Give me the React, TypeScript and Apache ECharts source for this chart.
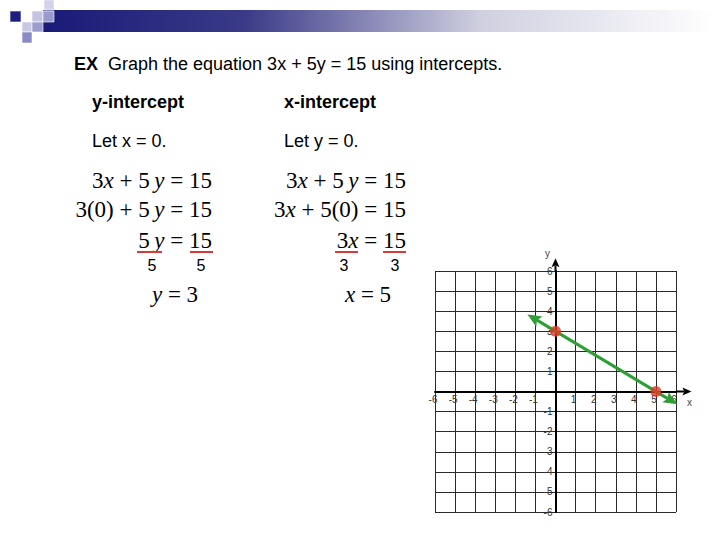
import React, { useEffect, useRef } from "react";
import * as echarts from "echarts";

// ---- data ----
const axisMin = -6;
const axisMax = 6;
const axisStep = 1;
const intercepts = [
  [0, 3],
  [5, 0],
];
const graphedLine = [[-1.4, 3.84, 6.07, -0.64]];
const axisArrowTips = [
  [6.77, 0],
  [0, 6.64],
];
const axisNames = ["x", "y"];

const titleBold = "EX";
const titleRest = "  Graph the equation 3x + 5y = 15 using intercepts.";
const headings = ["y-intercept", "x-intercept"];
const letLines = ["Let x = 0.", "Let y = 0."];
const leftSteps = ["3x + 5\u2009y = 15", "3(0) + 5\u2009y = 15", "5\u2009y = 15"];
const rightSteps = ["3x + 5\u2009y = 15", "3x + 5(0) = 15", "3x = 15"];
const leftDivisor = "5";
const rightDivisor = "3";
const leftResult = "y = 3";
const rightResult = "x = 5";

const SANS = "'Liberation Sans', Arial, sans-serif";
const SERIF = "'Liberation Serif', 'Times New Roman', serif";

// plot box (layout)
const GRID = { left: 435, top: 271, width: 241, height: 241 };

function toRich(s: string): string {
  let out = "";
  let buf = "";
  const flush = () => {
    if (buf) out += `{n|${buf}}`;
    buf = "";
  };
  for (const c of s) {
    if (c === "x" || c === "y") {
      flush();
      out += `{v|${c}}`;
    } else buf += c;
  }
  flush();
  return out;
}

const eqRich = {
  n: { fontFamily: SERIF, fontSize: 23, color: "#000" },
  v: { fontFamily: SERIF, fontSize: 23, fontStyle: "italic", color: "#000" },
};

function eqText(text: string, x: number, y: number, align: string) {
  return {
    type: "text",
    x,
    y,
    style: {
      text: toRich(text),
      rich: eqRich,
      align,
      verticalAlign: "middle",
    },
  };
}

function sansText(text: string, x: number, y: number, opts: any = {}) {
  return {
    type: "text",
    x,
    y,
    style: {
      text,
      fontFamily: SANS,
      fontSize: 18,
      fill: "#000",
      verticalAlign: "middle",
      ...opts,
    },
  };
}

function arrowParts(p0: number[], p1: number[], color: string, headLen: number, headW: number) {
  const dx = p1[0] - p0[0];
  const dy = p1[1] - p0[1];
  const L = Math.hypot(dx, dy) || 1;
  const ux = dx / L;
  const uy = dy / L;
  const nx = -uy;
  const ny = ux;
  const bx = p1[0] - ux * headLen;
  const by = p1[1] - uy * headLen;
  const notchX = p1[0] - ux * headLen * 0.8;
  const notchY = p1[1] - uy * headLen * 0.8;
  return {
    base: [notchX, notchY],
    head: {
      type: "polygon",
      shape: {
        points: [
          [p1[0], p1[1]],
          [bx + (nx * headW) / 2, by + (ny * headW) / 2],
          [notchX, notchY],
          [bx - (nx * headW) / 2, by - (ny * headW) / 2],
        ],
      },
      style: { fill: color },
    },
  };
}

export default function App() {
  const ref = useRef<HTMLDivElement>(null);

  useEffect(() => {
    if (!ref.current) return;
    const chart = echarts.init(ref.current, null, { renderer: "svg" });

    const squares = [
      { x: 44, y: 0, w: 10, h: 10, c: "#d2d2ea" },
      { x: 10, y: 11, w: 11, h: 11, c: "#1e1e80" },
      { x: 32, y: 11, w: 11, h: 11, c: "#c4c4e2" },
      { x: 43, y: 11, w: 11, h: 11, c: "#9a9acc" },
      { x: 22, y: 22, w: 10, h: 10, c: "#c8c8e4" },
      { x: 32, y: 22, w: 11, h: 10, c: "#9c9cce" },
      { x: 22, y: 32, w: 10, h: 11, c: "#8a8ac6" },
    ];

    const graphic: any[] = [
      {
        type: "rect",
        shape: { x: 43, y: 10, width: 672, height: 22 },
        style: {
          fill: new echarts.graphic.LinearGradient(0, 0, 1, 0, [
            { offset: 0, color: "#1a1a78" },
            { offset: 0.3, color: "#3a3a88" },
            { offset: 0.65, color: "#cfcfe0" },
            { offset: 1, color: "#ffffff" },
          ]),
        },
      },
      ...squares.map((s) => ({
        type: "rect",
        shape: { x: s.x, y: s.y, width: s.w, height: s.h },
        style: { fill: s.c, stroke: "#ffffff", lineWidth: 0.6 },
      })),
      {
        type: "text",
        x: 74,
        y: 64,
        style: {
          text: `{b|${titleBold}}{r|${titleRest}}`,
          verticalAlign: "middle",
          rich: {
            b: { fontFamily: SANS, fontSize: 18, fontWeight: "bold", color: "#000" },
            r: { fontFamily: SANS, fontSize: 18, color: "#000" },
          },
        },
      },
      sansText(headings[0], 92, 102, { fontWeight: "bold" }),
      sansText(headings[1], 284, 102, { fontWeight: "bold" }),
      sansText(letLines[0], 92, 141),
      sansText(letLines[1], 284, 141),
      eqText(leftSteps[0], 212, 180, "right"),
      eqText(leftSteps[1], 212, 209, "right"),
      eqText(leftSteps[2], 212, 240, "right"),
      eqText(rightSteps[0], 406, 180, "right"),
      eqText(rightSteps[1], 406, 209, "right"),
      eqText(rightSteps[2], 406, 240, "right"),
      eqText(leftResult, 175, 294, "center"),
      eqText(rightResult, 368, 294, "center"),
      sansText(leftDivisor, 152, 265, { fontSize: 16, align: "center" }),
      sansText(leftDivisor, 201, 265, { fontSize: 16, align: "center" }),
      sansText(rightDivisor, 344, 265, { fontSize: 16, align: "center" }),
      sansText(rightDivisor, 395, 265, { fontSize: 16, align: "center" }),
      ...[
        [137, 162],
        [190, 213],
        [335, 358],
        [383, 406],
      ].map(([a, b]) => ({
        type: "line",
        shape: { x1: a, y1: 252, x2: b, y2: 252 },
        style: { stroke: "#d83a3a", lineWidth: 2 },
      })),
    ];

    // move each axis (line + labels) to the other axis' zero
    const xOffset = -(GRID.height * (0 - axisMin)) / (axisMax - axisMin);
    const yOffset = -(GRID.width * (0 - axisMin)) / (axisMax - axisMin);

    const axisCommon = {
      type: "value",
      min: axisMin,
      max: axisMax,
      interval: axisStep,
      axisTick: { show: false },
      axisLine: { onZero: false, lineStyle: { color: "#000", width: 2 } },
      splitLine: { show: true, lineStyle: { color: "#2a2a2a", width: 1 } },
    };

    const labelCommon = {
      formatter: (v: number) => (v === 0 ? "" : String(v)),
      fontFamily: SANS,
      fontSize: 10,
      color: "#333",
    };

    const option: any = {
      animation: false,
      graphic,
      grid: {
        left: GRID.left,
        top: GRID.top,
        width: GRID.width,
        height: GRID.height,
      },
      xAxis: {
        ...axisCommon,
        position: "bottom",
        offset: xOffset,
        axisLabel: { ...labelCommon, margin: 3, padding: [0, 4, 0, 0] },
      },
      yAxis: {
        ...axisCommon,
        position: "left",
        offset: yOffset,
        axisLabel: { ...labelCommon, margin: 3 },
      },
      series: [
        {
          type: "custom",
          name: "axes",
          clip: false,
          z: 3,
          data: axisArrowTips.map((p, i) => [p[0], p[1], i]),
          renderItem: (params: any, api: any) => {
            const i = params.dataIndex;
            const tip = [api.value(0), api.value(1)];
            const start = i === 0 ? [axisMax, 0] : [0, axisMax];
            const p0 = api.coord(start);
            const p1 = api.coord(tip);
            const a = arrowParts(p0, p1, "#000", 9, 8);
            const namePos = i === 0 ? [p1[0] - 2, p1[1] + 11] : [p1[0] - 8, p1[1] - 5];
            return {
              type: "group",
              children: [
                {
                  type: "line",
                  shape: { x1: p0[0], y1: p0[1], x2: a.base[0], y2: a.base[1] },
                  style: { stroke: "#000", lineWidth: 2 },
                },
                a.head,
                {
                  type: "text",
                  x: namePos[0],
                  y: namePos[1],
                  style: {
                    text: axisNames[i],
                    fontFamily: SANS,
                    fontSize: 10,
                    fill: "#444",
                    align: "center",
                    verticalAlign: "middle",
                  },
                },
              ],
            };
          },
        },
        {
          type: "custom",
          name: "3x + 5y = 15",
          clip: false,
          z: 4,
          data: graphedLine,
          renderItem: (params: any, api: any) => {
            const p0 = api.coord([api.value(0), api.value(1)]);
            const p1 = api.coord([api.value(2), api.value(3)]);
            const color = "#2f9e34";
            const h1 = arrowParts(p0, p1, color, 14, 12);
            const h0 = arrowParts(p1, p0, color, 14, 12);
            return {
              type: "group",
              children: [
                {
                  type: "line",
                  shape: { x1: h0.base[0], y1: h0.base[1], x2: h1.base[0], y2: h1.base[1] },
                  style: { stroke: color, lineWidth: 3 },
                },
                h0.head,
                h1.head,
              ],
            };
          },
        },
        {
          type: "scatter",
          name: "intercepts",
          z: 5,
          data: intercepts,
          symbolSize: 11,
          itemStyle: { color: "#e03a26" },
        },
      ],
    };

    chart.setOption(option);
    return () => chart.dispose();
  }, []);

  return (
    <div
      ref={ref}
      style={{ position: "fixed", left: 0, top: 0, width: 728, height: 546, background: "#fff" }}
    />
  );
}
